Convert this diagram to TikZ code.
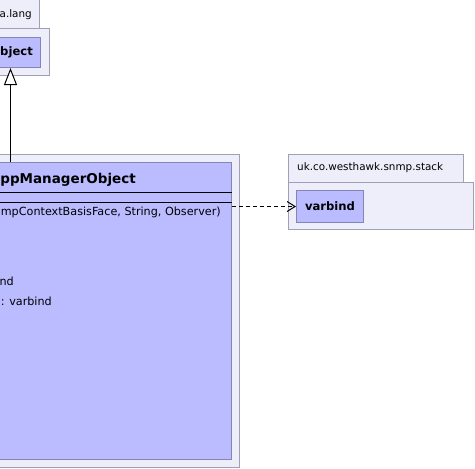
\documentclass[tikz,border=0pt]{standalone}
\usepackage{fontspec}
\setmainfont{DejaVu Sans}
\usetikzlibrary{arrows.meta, positioning}

\definecolor{pkgfill}{HTML}{EEEEFA}
\definecolor{pkgline}{HTML}{A0A0B4}
\definecolor{clsfill}{HTML}{BBBBFF}
\definecolor{clsline}{HTML}{8585B5}

\tikzset{
  pkgbox/.style={draw=pkgline, fill=pkgfill, line width=1pt, inner sep=0pt, anchor=north east},
  clsbox/.style={draw=clsline, fill=clsfill, line width=1pt, inner sep=0pt, anchor=north east},
  pkgtxt/.style={inner sep=0pt, font=\fontsize{10.4}{12}\selectfont},
  txt/.style={inner sep=0pt, font=\fontsize{11.2}{13}\selectfont},
  title/.style={inner sep=0pt, font=\fontsize{11.6}{13}\selectfont\bfseries},
}

\begin{document}
\begin{tikzpicture}[x=1pt, y=-1pt]

        % Picture size and crop
        \useasboundingbox (0,0) rectangle (475,469);
        \clip (0,0) rectangle (475,469);

        % 1. Package java.lang (top left, cropped)
        \node[pkgbox, minimum width=100pt, minimum height=30pt] (langtab) at (40,-2) {};
        \node[pkgbox, minimum width=110pt, minimum height=47pt] (langpkg) at (50,28) {};
        \node[pkgtxt, anchor=east] (langname) at (32,15) {a.lang};
        \node[clsbox, minimum width=90pt, minimum height=30pt] (object) at (41,37) {};
        \node[title, anchor=east] (objname) at (33,52) {bject};

        % 2. Main package with the manager class (cropped)
        \node[pkgbox, minimum width=260pt, minimum height=313pt] (mainpkg) at (240,154) {};
        \node[clsbox, minimum width=250pt, minimum height=297pt] (manager) at (232,162) {};
        \node[title, font=\fontsize{13.5}{16}\selectfont\bfseries, anchor=east] (mgrname) at (136,180) {ppManagerObject};
        \draw[line width=1pt] (-20,192) -- (manager.east |- 0,192);
        \draw[line width=1pt] (-20,202) -- (manager.east |- 0,202);
        \node[txt, anchor=east] (ctor) at (221,212) {mpContextBasisFace, String, Observer)};
        \node[txt, anchor=east] (field1) at (14,281) {nd};
        \node[txt, anchor=east] (field2) at (52,301) {: varbind};

        % 3. Package uk.co.westhawk.snmp.stack (right)
        \node[pkgbox, minimum width=175pt, minimum height=28pt] (stacktab) at (464,154) {};
        \node[pkgbox, minimum width=185pt, minimum height=47pt] (stackpkg) at (474,182) {};
        \node[pkgtxt, anchor=west] (stackname) at (297,168) {uk.co.westhawk.snmp.stack};
        \node[clsbox, minimum width=67pt, minimum height=32pt] (varbind) at (364,190) {};
        \node[title] (vbname) at (varbind.center) {varbind};

        % 4. Connectors
        % inheritance: manager -> Object
        \coordinate (mgrtop) at (10.5,162);
        \draw[line width=1pt, -{Triangle[open, length=17pt, width=13pt, fill=white]}]
             (mgrtop) -- (mgrtop |- object.south);
        % dependency: manager -> varbind
        \draw[line width=1pt, dash pattern=on 4pt off 3pt, -{Straight Barb[length=8pt, width=10pt]}]
             (manager.east |- varbind.west) -- (varbind.west);

\end{tikzpicture}
\end{document}
